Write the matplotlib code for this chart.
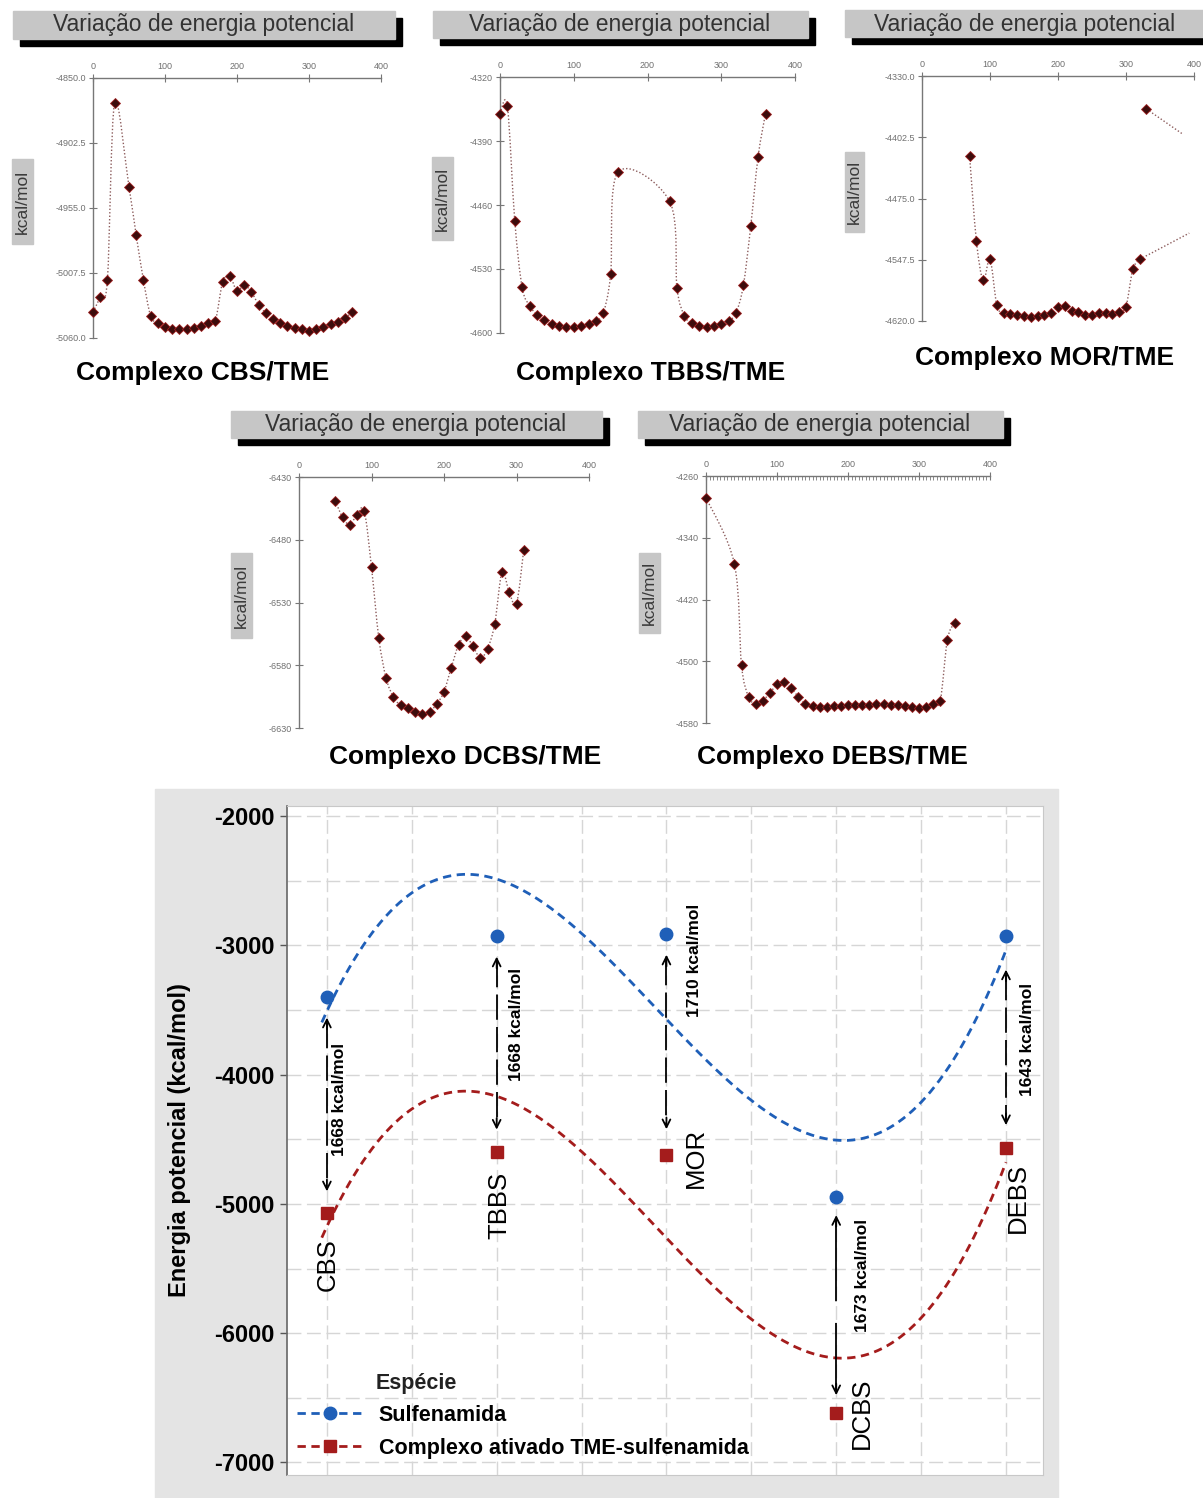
import numpy as np
import matplotlib
matplotlib.use('Agg')
import matplotlib.pyplot as plt
from matplotlib.path import Path
from matplotlib.patches import PathPatch, Rectangle
from matplotlib.lines import Line2D

plt.rcParams['font.family'] = ['Liberation Sans', 'DejaVu Sans']
plt.rcParams['axes.unicode_minus'] = False

W, H = 1203, 1498

# ---- dados: varredura de energia potencial (angulo, kcal/mol) ----
cbs_ang = [0, 10, 20, 30, 50, 60, 70, 80, 90, 100, 110, 120, 130, 140, 150, 160, 170,
           180, 190, 200, 210, 220, 230, 240, 250, 260, 270, 280, 290, 300, 310, 320,
           330, 340, 350, 360]
cbs_en = [-5039, -5027, -5013, -4870, -4938, -4977, -5013, -5042, -5048, -5051, -5053,
          -5053, -5053, -5052, -5050, -5048, -5046, -5015, -5010, -5022, -5017, -5023,
          -5033, -5040, -5045, -5048, -5050, -5052, -5053, -5054, -5053, -5051, -5049,
          -5047, -5044, -5039]
cbs_yt = [-4850.0, -4902.5, -4955.0, -5007.5, -5060.0]

tbbs_ang = [0, 10, 20, 30, 40, 50, 60, 70, 80, 90, 100, 110, 120, 130, 140, 150, 160,
            230, 240, 250, 260, 270, 280, 290, 300, 310, 320, 330, 340, 350, 360]
tbbs_en = [-4360, -4352, -4477, -4550, -4570, -4580, -4586, -4590, -4592, -4593, -4593,
           -4592, -4590, -4587, -4578, -4536, -4424,
           -4456, -4551, -4581, -4589, -4592, -4593, -4592, -4590, -4587, -4578, -4548,
           -4483, -4407, -4360]
tbbs_yt = [-4320, -4390, -4460, -4530, -4600]

mor_ang = [70, 80, 90, 100, 110, 120, 130, 140, 150, 160, 170, 180, 190, 200, 210, 220,
           230, 240, 250, 260, 270, 280, 290, 300, 310, 320]
mor_en = [-4425, -4525, -4572, -4547, -4601, -4611, -4612, -4613, -4614, -4615, -4614,
          -4613, -4610, -4604, -4602, -4608, -4609, -4613, -4613, -4611, -4610, -4612,
          -4609, -4603, -4559, -4547]
mor_ang_extra = [330]
mor_en_extra = [-4369]
mor_tail1_ang = [330, 382]
mor_tail1_en = [-4369, -4398]
mor_tail2_ang = [320, 393]
mor_tail2_en = [-4547, -4516]
mor_yt = [-4330.0, -4402.5, -4475.0, -4547.5, -4620.0]

dcbs_ang = [50, 60, 70, 80, 90, 100, 110, 120, 130, 140, 150, 160, 170, 180, 190, 200,
            210, 220, 230, 240, 250, 260, 270, 280, 290, 300, 310]
dcbs_en = [-6449, -6462, -6468, -6460, -6457, -6502, -6558, -6590, -6605, -6612, -6614,
           -6617, -6619, -6617, -6611, -6601, -6582, -6564, -6557, -6565, -6574, -6567,
           -6547, -6506, -6522, -6531, -6488]
dcbs_yt = [-6430, -6480, -6530, -6580, -6630]

debs_ang = [0, 40, 50, 60, 70, 80, 90, 100, 110, 120, 130, 140, 150, 160, 170, 180, 190,
            200, 210, 220, 230, 240, 250, 260, 270, 280, 290, 300, 310, 320, 330, 340, 350]
debs_en = [-4288, -4374, -4505, -4546, -4555, -4551, -4541, -4530, -4527, -4535, -4546,
           -4555, -4558, -4559, -4559, -4558, -4558, -4557, -4557, -4557, -4557, -4556,
           -4556, -4557, -4557, -4558, -4559, -4561, -4559, -4556, -4551, -4472, -4450]
debs_yt = [-4260, -4340, -4420, -4500, -4580]

# ---- grafico principal ----
especies = ['CBS', 'TBBS', 'MOR', 'DCBS', 'DEBS']
sulfenamida = [-3400, -2928, -2913, -4947, -2928]
complexo = [-5068, -4596, -4623, -6620, -4571]
delta_txt = ['1668 kcal/mol', '1668 kcal/mol', '1710 kcal/mol', '1673 kcal/mol', '1643 kcal/mol']
x_cat = [1, 2, 3, 4, 5]


def px_box(x0, y0, x1, y1):
    return [x0 / W, 1 - y1 / H, (x1 - x0) / W, (y1 - y0) / H]


def smooth_path(xs, ys):
    # curva suave (Catmull-Rom -> Bezier) desenhada pelo Path do matplotlib
    P = np.column_stack([xs, ys]).astype(float)
    n = len(P)
    verts = [P[0]]
    codes = [Path.MOVETO]
    for i in range(n - 1):
        p0 = P[i - 1] if i > 0 else P[i]
        p1, p2 = P[i], P[i + 1]
        p3 = P[i + 2] if i + 2 < n else P[i + 1]
        verts += [p1 + (p2 - p0) / 6, p2 - (p3 - p1) / 6, p2]
        codes += [Path.CURVE4] * 3
    return Path(verts, codes)


fig = plt.figure(figsize=(W / 100, H / 100), dpi=100)
bg = fig.add_axes([0, 0, 1, 1])
bg.set_xlim(0, W)
bg.set_ylim(H, 0)
bg.axis('off')

panels = [
    dict(a=cbs_ang, e=cbs_en, yt=cbs_yt, fmt='%.1f', ax=(93, 78, 381, 338),
         title=(13, 11, 395, 39), tc=(204, 25), kcal=(12, 159, 33, 244),
         cap='Complexo CBS/TME', cc=(203, 373)),
    dict(a=tbbs_ang, e=tbbs_en, yt=tbbs_yt, fmt='%d', ax=(500, 77, 795, 333),
         title=(433, 11, 808, 38), tc=(620, 25), kcal=(432, 157, 453, 240),
         cap='Complexo TBBS/TME', cc=(651, 373)),
    dict(a=mor_ang, e=mor_en, yt=mor_yt, fmt='%.1f', ax=(922, 76, 1194, 321),
         title=(845, 10, 1215, 37), tc=(1025, 24), kcal=(845, 152, 864, 232),
         cap='Complexo MOR/TME', cc=(1045, 358)),
    dict(a=dcbs_ang, e=dcbs_en, yt=dcbs_yt, fmt='%d', ax=(299, 477, 589, 728),
         title=(231, 411, 602, 438), tc=(416, 425), kcal=(231, 553, 252, 638),
         cap='Complexo DCBS/TME', cc=(465, 757)),
    dict(a=debs_ang, e=debs_en, yt=debs_yt, fmt='%d', ax=(706, 476, 990, 723),
         title=(638, 411, 1003, 438), tc=(820, 425), kcal=(639, 553, 660, 633),
         cap='Complexo DEBS/TME', cc=(832, 757)),
]

curve_kw = dict(color='#8c5c5c', lw=1.0, linestyle=(0, (1, 1.5)))
mark_kw = dict(marker='D', ms=5.5, mfc='#3d0c0c', mec='#a02020', mew=0.6,
               linestyle='none', clip_on=False, zorder=5)

small_axes = []
for p in panels:
    x0, y0, x1, y1 = p['title']
    bg.add_patch(Rectangle((x0 + 7, y0 + 7), x1 - x0, y1 - y0, color='black'))
    bg.add_patch(Rectangle((x0, y0), x1 - x0, y1 - y0, color='#c6c6c6'))
    bg.text(p['tc'][0], p['tc'][1], 'Variação de energia potencial', ha='center',
            va='center', fontsize=16.5, color='#333333')
    kx0, ky0, kx1, ky1 = p['kcal']
    bg.add_patch(Rectangle((kx0, ky0), kx1 - kx0, ky1 - ky0, color='#c6c6c6'))
    bg.text((kx0 + kx1) / 2, (ky0 + ky1) / 2, 'kcal/mol', rotation=90, ha='center',
            va='center', fontsize=12.5, color='#3a3a3a')
    bg.text(p['cc'][0], p['cc'][1], p['cap'], ha='center', va='center',
            fontsize=19, fontweight='bold', color='black')

    ax = fig.add_axes(px_box(*p['ax']))
    ax.patch.set_alpha(0)
    ax.set_xlim(0, 400)
    ax.set_ylim(min(p['yt']), max(p['yt']))
    for s in ('right', 'bottom'):
        ax.spines[s].set_visible(False)
    for s in ('top', 'left'):
        ax.spines[s].set_color('#777777')
        ax.spines[s].set_linewidth(1)
    ax.xaxis.tick_top()
    ax.set_xticks([0, 100, 200, 300, 400])
    ax.set_yticks(p['yt'])
    ax.set_yticklabels([p['fmt'] % v for v in p['yt']])
    ax.tick_params(direction='inout', length=6, width=0.8, colors='#777777',
                   labelsize=6.5, labelcolor='#707070', pad=2)
    ax.add_patch(PathPatch(smooth_path(p['a'], p['e']), fill=False,
                           transform=ax.transData, clip_on=False, **curve_kw))
    ax.plot(p['a'], p['e'], **mark_kw)
    small_axes.append(ax)

# extremidade do painel MOR
ax_mor = small_axes[2]
ax_mor.plot(mor_tail1_ang, mor_tail1_en, clip_on=False, **curve_kw)
ax_mor.plot(mor_tail2_ang, mor_tail2_en, clip_on=False, **curve_kw)
ax_mor.plot(mor_ang_extra, mor_en_extra, **mark_kw)

# escala fina no eixo do DEBS
small_axes[4].set_xticks(np.arange(0, 401, 5), minor=True)
small_axes[4].tick_params(which='minor', direction='in', length=3, width=0.6,
                          colors='#777777')

# ---- painel principal ----
bg.add_patch(Rectangle((155, 789), 903, 709, color='#e4e4e4'))
axm = fig.add_axes(px_box(287, 806, 1043, 1475))
axm.set_facecolor('white')
axm.set_xlim(0.765, 5.218)
axm.set_ylim(-7097, -1923)
axm.set_xticks(np.arange(1, 5.01, 0.5))
axm.set_xticklabels([])
axm.tick_params(axis='x', length=0)
axm.set_yticks([-7000, -6000, -5000, -4000, -3000, -2000])
axm.set_yticks(np.arange(-7000, -1999, 500), minor=True)
axm.tick_params(axis='y', which='major', length=5, width=1, color='#555555',
                labelsize=17, pad=4)
axm.tick_params(axis='y', which='minor', length=0)
for t in axm.get_yticklabels():
    t.set_fontweight('bold')
axm.grid(which='both', color='#d6d6d6', linestyle=(0, (10, 4)), lw=1.0)
axm.set_axisbelow(True)
for s in ('top', 'right', 'bottom'):
    axm.spines[s].set_color('#c8c8c8')
axm.spines['left'].set_color('#666666')
axm.spines['left'].set_linewidth(1.2)
axm.set_ylabel('Energia potencial (kcal/mol)', fontsize=17, fontweight='bold')
axm.yaxis.set_label_coords(-0.127, 0.5)

blue = '#1f5fb8'
red = '#a41c1c'
xf = np.linspace(0.97, 5, 300)
axm.plot(xf, np.polyval(np.polyfit(x_cat, sulfenamida, 3), xf), color=blue,
         lw=2, linestyle=(0, (3, 2)))
axm.plot(xf, np.polyval(np.polyfit(x_cat, complexo, 3), xf), color=red,
         lw=2, linestyle=(0, (3, 2)))
axm.plot(x_cat, sulfenamida, 'o', color=blue, ms=9, zorder=5)
axm.plot(x_cat, complexo, 's', color=red, ms=9, zorder=5)

# setas de diferenca de energia
gap_top = [160, 160, 160, 140, 260]
gap_bot = [165, 170, 200, 140, 180]
dash_styles = [(0, (14, 4)), (0, (14, 4)), (0, (14, 4)), (0, (45, 12)), (0, (14, 4))]
txt_pos = [(1.076, -4196), (2.118, -3616), (3.165, -3114), (4.153, -5550), (5.129, -3732)]
lab_pos = [(1.006, -5473), (2.018, -5009), (3.176, -4645), (4.153, -6617), (5.071, -4954)]
for i, x in enumerate(x_cat):
    top = sulfenamida[i] - gap_top[i]
    bot = complexo[i] + gap_bot[i]
    axm.plot([x, x], [top - 40, bot + 40], color='black', lw=1.3,
             linestyle=dash_styles[i])
    axm.annotate('', xy=(x, top), xytext=(x, top - 90),
                 arrowprops=dict(arrowstyle='->', lw=1.3, color='black',
                                 mutation_scale=14, shrinkA=0, shrinkB=0))
    axm.annotate('', xy=(x, bot), xytext=(x, bot + 90),
                 arrowprops=dict(arrowstyle='->', lw=1.3, color='black',
                                 mutation_scale=14, shrinkA=0, shrinkB=0))
    axm.text(txt_pos[i][0], txt_pos[i][1], delta_txt[i], rotation=90, ha='center',
             va='center', fontsize=12.5, fontweight='bold')
    axm.text(lab_pos[i][0], lab_pos[i][1], especies[i], rotation=90, ha='center',
             va='center', fontsize=18.5)

handles = [Line2D([], [], color=blue, lw=2, linestyle=(0, (3, 2)), marker='o', ms=9),
           Line2D([], [], color=red, lw=2, linestyle=(0, (3, 2)), marker='s', ms=9)]
leg = axm.legend(handles, ['Sulfenamida', 'Complexo ativado TME-sulfenamida'],
                 loc='upper left', bbox_to_anchor=(297 / W, 1 - 1405 / H),
                 bbox_transform=fig.transFigure, frameon=False, borderpad=0,
                 borderaxespad=0, handlelength=3.1, handletextpad=0.7,
                 labelspacing=0.55, numpoints=1,
                 prop=dict(size=15.5, weight='bold'))
fig.text(376 / W, 1 - 1384 / H, 'Espécie', ha='left', va='center', fontsize=15.5,
         fontweight='bold', color='#222222')

fig.savefig('out.png', dpi=100)
